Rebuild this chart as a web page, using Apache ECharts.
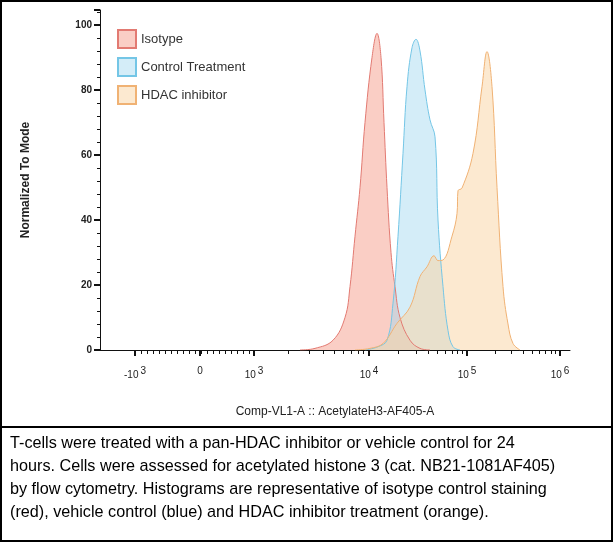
<!DOCTYPE html><html><head><meta charset="utf-8"><script src="https://cdn.jsdelivr.net/npm/echarts@6/dist/echarts.min.js"></script>
<style>body{margin:0}#c{width:613px;height:542px}</style></head><body><div id="c"></div><script>
const seriesNames=['Isotype','Control Treatment','HDAC inhibitor'];
const isotype=[[200,0],[215,0.5],[233,3],[245,10],[250,19.5],[255,35],[260,50],[265,70],[272,90],[277,97.4],[281,90],[284,70],[287,50],[291,30],[295,19.5],[300,10],[310,3],[320,0.5],[330,0]];
const control=[[265,0],[278,1],[287,3],[293,14.4],[298,35],[303,60.5],[307,81],[312,93],[316,95.6],[320,92],[325,80],[330,70.8],[335,65.6],[338,40],[343,19.5],[348,6],[353,1],[360,0]];
const hdac=[[255,0],[270,0.5],[283,2],[297,8.2],[310,13.2],[320,22.6],[327,25.6],[334,29],[338,27.5],[343,27.7],[352,35],[357,42],[358,49],[362,49.8],[373,60.5],[382,81],[387,91.8],[392,81],[397,50],[403,19.5],[408,8],[413,2],[420,0]];
const tickPos=[35,100,154,269,367,460];
const tickLabels=['{b|-10}{s|3}','{b|0}','{b|10}{s|3}','{b|10}{s|4}','{b|10}{s|5}','{b|10}{s|6}'];
const caption=['T-cells were treated with a pan-HDAC inhibitor or vehicle control for 24','hours. Cells were assessed for acetylated histone 3 (cat. NB21-1081AF405)','by flow cytometry. Histograms are representative of isotype control staining','(red), vehicle control (blue) and HDAC inhibitor treatment (orange).'];
const lineC=['#e27a72','#74c6e6','#f0b274'],fillC=['rgba(245,165,150,0.55)','rgba(160,215,240,0.45)','rgba(250,215,170,0.55)'];
const minor=[];
for(let i=2;i<tickPos.length-1;i++){for(let k=2;k<10;k++)minor.push(tickPos[i]+Math.log10(k)*(tickPos[i+1]-tickPos[i]));}
for(let p=35;p<=154;p+=6)minor.push(p);
const c=echarts.init(document.getElementById('c'));
const F='Liberation Sans';
const rich={b:{fontSize:10,color:'#222',fontFamily:F},s:{fontSize:10,color:'#222',verticalAlign:'top',padding:[0,0,8,2],fontFamily:F}};
c.setOption({animation:false,
grid:{left:100,right:43,top:10,bottom:192},
xAxis:[{type:'value',min:0,max:470,axisLine:{lineStyle:{color:'#111'}},splitLine:{show:false},
 axisTick:{customValues:tickPos,length:6,lineStyle:{width:2,color:'#111'}},
 axisLabel:{customValues:tickPos,formatter:(v)=>tickLabels[tickPos.indexOf(v)]||'',rich:rich,margin:16},
 name:'Comp-VL1-A :: AcetylateH3-AF405-A',nameLocation:'middle',nameGap:56,nameTextStyle:{fontSize:12,color:'#222',fontFamily:F}},
 {type:'value',min:0,max:470,position:'bottom',axisLine:{show:false},splitLine:{show:false},axisLabel:{show:false},
 axisTick:{customValues:minor,length:4,lineStyle:{color:'#111'}}}],
yAxis:{type:'value',min:0,max:104.6,interval:20,axisLine:{show:true,lineStyle:{color:'#111'}},splitLine:{show:false},
 axisTick:{show:true,length:6,lineStyle:{width:2}},minorTick:{show:true,splitNumber:5,length:3,lineStyle:{color:'#111'}},
 axisLabel:{fontSize:10,color:'#222',fontFamily:F,fontWeight:'bold',formatter:v=>v>100?'':v},
 name:'Normalized To Mode',nameLocation:'middle',nameGap:68,nameTextStyle:{fontSize:12,color:'#222',fontWeight:'bold',fontFamily:F}},
legend:{left:112,top:24,orient:'vertical',itemWidth:18,itemHeight:18,itemGap:8,icon:'rect',textStyle:{fontSize:13,color:'#333',fontFamily:F}},
series:[isotype,control,hdac].map((d,i)=>({name:seriesNames[i],type:'line',data:d,smooth:0.4,symbol:'none',
 lineStyle:{color:lineC[i],width:1},areaStyle:{color:fillC[i],opacity:1},itemStyle:{color:fillC[i],borderColor:lineC[i],borderWidth:1}})),
graphic:[{type:'rect',shape:{x:1,y:1,width:611,height:540},style:{fill:'none',stroke:'#000',lineWidth:2}},
 {type:'line',shape:{x1:0,y1:427,x2:613,y2:427},style:{stroke:'#000',lineWidth:2}},
 ...caption.map((t,i)=>({type:'text',left:10,top:436+i*23,style:{text:t,fontSize:16.2,fontFamily:F,fill:'#000'}}))]
});
</script></body></html>
